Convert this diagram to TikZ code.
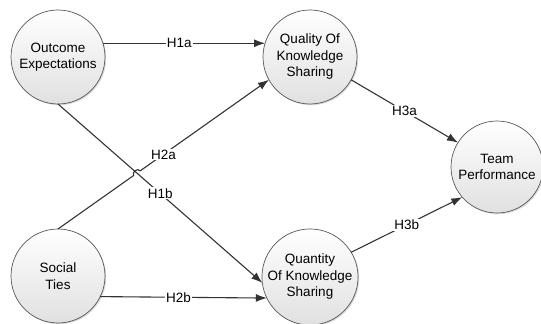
\documentclass[tikz,border=0pt]{standalone}
\usepackage{fontspec}
\setmainfont{Liberation Sans}
\usetikzlibrary{shadows,arrows.meta,calc,intersections}
\begin{document}
\begin{tikzpicture}[x=1pt,y=-1pt,
  construct/.style={circle, draw=black!65, line width=0.7pt, minimum size=94pt, inner sep=0pt, outer sep=0pt,
    top color=white, bottom color=black!12, align=center,
    font=\fontsize{13.5}{16.5}\selectfont,
    drop shadow={shadow xshift=1.2pt, shadow yshift=-1.2pt, opacity=0.3, fill=black!50}},
  arr/.style={draw=black!80, line width=1.1pt, -{Latex[length=11pt,width=8pt]}},
  lbl/.style={fill=white, inner sep=1pt, font=\fontsize{13.5}{15}\selectfont}]
\useasboundingbox (0,0) rectangle (541,324);
\node[construct] (O) at (58,57) {Outcome\\Expectations};
\node[construct] (S) at (58,276) {Social\\Ties};
\node[construct] (Q) at (310,57) {Quality Of\\Knowledge\\Sharing};
\node[construct] (N) at (310,277) {Quantity\\Of Knowledge\\Sharing};
\node[construct, minimum size=92pt] (T) at (497,167) {Team\\Performance};
% H1a
\draw[arr] (O.17) -- (Q.163) node[lbl, pos=0.47] {H1a};
% H2b
\draw[arr] (S.-26) -- (N.206) node[lbl, pos=0.47] {H2b};
% H1b
\path[name path=p1] (O.-90) -- (N.187);
\path[name path=p2] (S.90) -- (Q.209);
\path[name intersections={of=p1 and p2, by=X}];
\draw[arr] (O.-90) -- (N.187) node[lbl, pos=0.5] {H1b};
% H2a with a hop over H1b
\coordinate (A) at ($(X)!4pt!(S.90)$);
\coordinate (B) at ($(X)!4pt!(Q.209)$);
\draw[arr] (S.90) -- (A) to[bend left=90, looseness=1.3] (B) -- (Q.209);
\node[lbl] at ($(S.90)!0.5!(Q.209)$) {H2a};
% H3a, H3b
\draw[arr] (Q.-29) -- (T.148) node[lbl, pos=0.5] {H3a};
\draw[arr] (N.31) -- (T.221) node[lbl, pos=0.5] {H3b};
\end{tikzpicture}
\end{document}
